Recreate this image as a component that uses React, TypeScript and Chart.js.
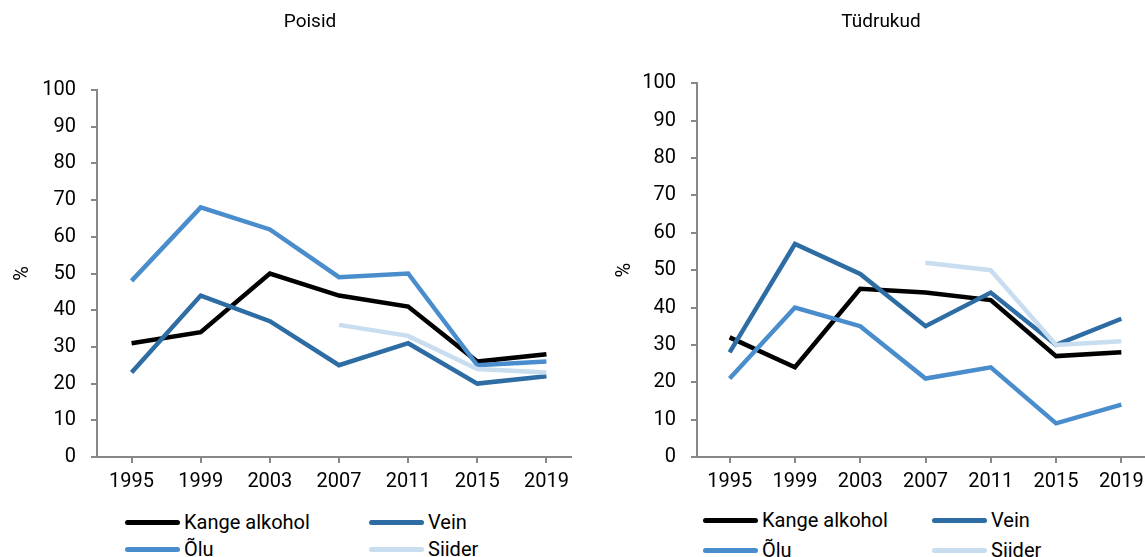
import React, { useEffect, useRef } from 'react';
import { Chart, registerables } from 'chart.js';

Chart.register(...registerables);

const years = ['1995', '1999', '2003', '2007', '2011', '2015', '2019'];
const yTicks = [0, 10, 20, 30, 40, 50, 60, 70, 80, 90, 100];
const seriesNames = ['Kange alkohol', 'Vein', 'Õlu', 'Siider'];
const seriesColors = ['#000000', '#2E6DA4', '#4A8DCC', '#C9DDF0'];

const poisidKange = [31, 34, 50, 44, 41, 26, 28];
const poisidVein = [23, 44, 37, 25, 31, 20, 22];
const poisidOlu = [48, 68, 62, 49, 50, 25, 26];
const poisidSiider = [null, null, null, 36, 33, 24, 23];

const tudrukudKange = [32, 24, 45, 44, 42, 27, 28];
const tudrukudVein = [28, 57, 49, 35, 44, 30, 37];
const tudrukudOlu = [21, 40, 35, 21, 24, 9, 14];
const tudrukudSiider = [null, null, null, 52, 50, 30, 31];

const FONT = 'Roboto';
const AXIS = '#878787';

type PanelProps = {
  title: string;
  series: (number | null)[][];
  left: number;
  width: number;
  clipWidth: number;
  yWidth: number;
  padLeft: number;
  padRight: number;
  titleBottom: number;
  yTitlePad: number;
};

function Panel(p: PanelProps) {
  const ref = useRef<HTMLCanvasElement | null>(null);
  useEffect(() => {
    if (!ref.current) return;
    const chart = new Chart(ref.current, {
      type: 'line',
      data: {
        labels: years,
        datasets: p.series.map((d, i) => ({
          label: seriesNames[i],
          data: d,
          borderColor: seriesColors[i],
          backgroundColor: seriesColors[i],
          borderWidth: 4.5,
          pointRadius: 0,
          pointHoverRadius: 0,
          fill: false,
          tension: 0,
          spanGaps: false,
          order: seriesNames.length - i,
        })),
      },
      options: {
        responsive: false,
        animation: false,
        layout: { padding: { left: p.padLeft, right: p.padRight, top: 0, bottom: 0 } },
        plugins: {
          legend: { display: false },
          tooltip: { enabled: false },
          title: {
            display: true,
            text: p.title,
            color: '#000',
            font: { family: FONT, size: 19, weight: 'normal' },
            padding: { top: 11, bottom: p.titleBottom },
          },
        },
        scales: {
          x: {
            type: 'category',
            offset: true,
            grid: {
              display: true,
              drawOnChartArea: false,
              drawTicks: true,
              tickLength: 6,
              color: AXIS,
              lineWidth: 2,
              offset: false,
            },
            border: { display: true, color: AXIS, width: 2 },
            ticks: {
              color: '#000',
              font: { family: FONT, size: 20 },
              padding: 7,
              maxRotation: 0,
              autoSkip: false,
            },
            afterFit: (s: any) => {
              s.height = 43;
            },
          },
          y: {
            min: 0,
            max: 100,
            afterBuildTicks: (s: any) => {
              s.ticks = yTicks.map((v) => ({ value: v }));
            },
            grid: {
              display: true,
              drawOnChartArea: false,
              drawTicks: true,
              tickLength: 6,
              color: AXIS,
              lineWidth: 2,
            },
            border: { display: true, color: AXIS, width: 2 },
            ticks: {
              color: '#000',
              font: { family: FONT, size: 20 },
              padding: 15,
            },
            title: {
              display: true,
              text: '%',
              color: '#000',
              font: { family: FONT, size: 20 },
              padding: { top: p.yTitlePad, bottom: 0 },
            },
            afterFit: (s: any) => {
              s.width = p.yWidth;
            },
          },
        },
      },
    } as any);
    return () => chart.destroy();
  }, []);
  return (
    <div
      style={{
        position: 'absolute',
        left: p.left,
        top: 0,
        width: p.clipWidth,
        height: 500,
        overflow: 'hidden',
      }}
    >
      <canvas ref={ref} width={p.width} height={500} style={{ width: p.width, height: 500, display: 'block' }} />
    </div>
  );
}

type LegendProps = { cols: number[]; rows: number[] };

function Legend({ cols, rows }: LegendProps) {
  return (
    <>
      {seriesNames.map((name, i) => (
        <div
          key={name}
          style={{
            position: 'absolute',
            left: cols[i % 2],
            top: rows[Math.floor(i / 2)] - 14,
            height: 28,
            display: 'flex',
            alignItems: 'center',
            fontFamily: FONT,
            fontSize: 20,
            color: '#000',
            whiteSpace: 'nowrap',
          }}
        >
          <span
            style={{
              display: 'inline-block',
              width: 55,
              height: 5,
              borderRadius: 3,
              background: seriesColors[i],
              marginRight: 4,
            }}
          />
          <span>{name}</span>
        </div>
      ))}
    </>
  );
}

export default function App() {
  return (
    <div
      style={{
        position: 'fixed',
        left: 0,
        top: 0,
        width: 1145,
        height: 557,
        overflow: 'hidden',
        background: '#fff',
      }}
    >
      <Panel
        title="Poisid"
        series={[poisidKange, poisidVein, poisidOlu, poisidSiider]}
        left={0}
        width={620}
        clipWidth={572}
        yWidth={58}
        padLeft={39}
        padRight={39}
        titleBottom={56.2}
        yTitlePad={-28}
      />
      <Panel
        title="Tüdrukud"
        series={[tudrukudKange, tudrukudVein, tudrukudOlu, tudrukudSiider]}
        left={608}
        width={546}
        clipWidth={546}
        yWidth={89}
        padLeft={0}
        padRight={0}
        titleBottom={49.5}
        yTitlePad={5}
      />
      <Legend cols={[125, 369]} rows={[522, 549]} />
      <Legend cols={[703, 932]} rows={[520, 550]} />
    </div>
  );
}
